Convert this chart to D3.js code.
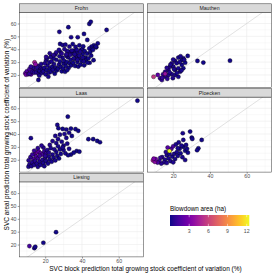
<!DOCTYPE html>
<html>
<head>
<meta charset="utf-8">
<script src="https://cdn.jsdelivr.net/npm/d3@7"></script>
<style>
    body { margin: 0; background: #fff; }
    text { font-family: "Liberation Sans", Arial, sans-serif; }
</style>
</head>
<body>
<div id="chart"></div>
<script>

// facet order as in the figure
const sites = ["Frohn", "Mauthen", "Laas", "Ploecken", "Liesing"];

// rows: [block CV (%), areal CV (%), blowdown area (ha)]
const frohn = [
    [44.0, 59.7, 0.1], [44.8, 61.3, 0.1], [53.4, 55.0, 0.1], [27.7, 53.5, 0.2], [32.6, 57.1, 0.1],
    [34.1, 49.3, 0.2], [41.1, 51.9, 0.1], [37.7, 49.3, 0.2], [42.9, 47.2, 0.1], [46.5, 43.1, 0.1],
    [45.2, 42.0, 0.1], [47.8, 41.5, 0.1], [44.0, 40.6, 0.2], [16.3, 16.1, 0.2], [48.6, 44.5, 0.1],
    [9.2, 21.3, 2.2], [10.0, 22.8, 1.6], [9.6, 20.2, 2.6], [10.8, 20.6, 1.2], [12.3, 20.4, 1.8],
    [13.6, 23.9, 1.0], [11.5, 21.0, 0.8], [12.8, 22.5, 0.6], [13.5, 25.8, 0.5], [11.4, 24.5, 1.3],
    [14.0, 21.8, 0.5], [12.2, 26.5, 0.7],
    [15.2, 22.0, 0.4], [15.8, 24.3, 0.3], [16.5, 20.8, 0.4], [17.0, 23.0, 0.2], [17.5, 25.8, 0.4],
    [16.2, 27.0, 0.6], [18.2, 21.5, 0.2], [18.5, 24.2, 0.3], [15.5, 26.0, 0.5], [17.8, 28.5, 0.3],
    [16.8, 19.5, 0.3], [19.0, 22.8, 0.2], [19.5, 25.5, 0.2], [20.2, 20.5, 0.2], [20.8, 23.8, 0.1],
    [21.3, 27.2, 0.3], [19.8, 29.0, 0.4], [22.0, 21.8, 0.2], [21.7, 18.6, 0.2], [22.5, 25.0, 0.1],
    [20.5, 31.5, 0.4], [22.3, 29.8, 0.2], [21.0, 33.0, 0.3], [23.2, 22.5, 0.2], [23.8, 26.5, 0.1],
    [24.3, 24.0, 0.2], [24.8, 28.5, 0.2], [25.2, 21.0, 0.1], [25.8, 25.8, 0.1], [23.5, 30.5, 0.3],
    [26.0, 31.8, 0.2], [24.5, 33.0, 0.2], [26.3, 23.5, 0.1], [25.5, 35.8, 0.3], [23.0, 34.0, 0.3],
    [27.0, 24.8, 0.1], [27.5, 28.0, 0.2], [28.0, 30.5, 0.1], [28.5, 26.2, 0.1], [29.0, 22.8, 0.1],
    [29.5, 33.2, 0.2], [30.0, 28.8, 0.1], [27.8, 34.5, 0.2], [29.8, 25.0, 0.1], [28.3, 37.8, 0.3],
    [30.3, 31.0, 0.2], [30.8, 22.5, 0.1], [31.2, 27.0, 0.1], [31.8, 30.0, 0.1], [32.3, 33.8, 0.2],
    [32.8, 25.5, 0.1], [33.3, 29.0, 0.1], [33.8, 31.8, 0.1], [31.5, 35.0, 0.2], [34.2, 27.5, 0.1],
    [34.5, 36.5, 0.2], [32.0, 23.8, 0.1], [33.0, 38.0, 0.3], [35.2, 29.5, 0.1], [35.8, 32.5, 0.1],
    [36.3, 27.0, 0.1], [36.8, 34.8, 0.2], [37.5, 30.0, 0.1], [38.0, 26.5, 0.1], [35.5, 38.8, 0.2],
    [37.2, 37.5, 0.2], [38.3, 33.0, 0.1], [39.2, 28.0, 0.1], [39.8, 31.0, 0.1], [40.5, 36.2, 0.1],
    [41.2, 27.5, 0.1], [41.8, 33.5, 0.1], [39.5, 39.5, 0.2], [42.2, 31.5, 0.1], [43.5, 33.0, 0.1],
    [44.2, 29.5, 0.1], [45.0, 35.0, 0.1], [46.3, 31.5, 0.1], [47.5, 42.0, 0.1], [45.5, 40.2, 0.1],
    [28.1, 44.1, 0.1], [29.5, 43.2, 0.2], [31.0, 43.5, 0.2], [33.2, 42.0, 0.3], [35.0, 44.0, 0.1],
    [36.5, 41.8, 0.2], [38.6, 43.0, 0.1], [40.2, 40.0, 0.2], [41.5, 38.5, 0.1], [39.0, 38.0, 0.3],
    [37.2, 39.5, 0.2], [34.5, 39.0, 0.3], [32.0, 38.5, 0.3], [30.5, 40.0, 0.4], [27.5, 39.5, 0.3],
    [26.0, 37.5, 0.4], [42.8, 36.5, 0.1], [44.5, 37.8, 0.1], [46.0, 39.5, 0.1], [36.0, 36.0, 0.3],
    [38.5, 35.0, 0.2], [40.5, 33.5, 0.2], [40.7, 42.2, 0.1], [41.0, 30.5, 0.2], [43.0, 29.5, 0.1],
    [37.5, 31.8, 0.3], [35.5, 33.0, 0.2], [33.5, 35.5, 0.4], [31.5, 36.0, 0.4], [29.0, 36.5, 0.5],
    [24.5, 35.5, 0.5], [22.5, 36.8, 0.4], [20.5, 34.0, 0.6], [14.2, 29.8, 4.6], [14.7, 28.3, 3.6]
];

const mauthen = [
    [27.9, 34.8, 0.1], [25.5, 33.0, 0.2], [24.7, 31.6, 0.1], [22.8, 33.5, 0.2], [21.0, 30.9, 0.3],
    [21.9, 29.1, 0.2], [19.2, 29.1, 0.4], [18.3, 26.4, 0.4], [20.1, 26.4, 0.3], [17.4, 23.9, 0.5],
    [15.6, 22.5, 0.6], [21.0, 23.9, 0.2], [22.8, 25.2, 0.2], [24.7, 27.8, 0.1], [26.5, 29.5, 0.1],
    [23.7, 22.5, 0.2], [19.2, 20.7, 0.3], [17.4, 19.9, 0.5], [15.6, 18.6, 0.7], [12.9, 17.4, 1.0],
    [13.8, 16.1, 0.8], [22.8, 18.6, 0.2], [21.0, 19.9, 0.3], [25.5, 25.2, 0.1], [26.0, 31.8, 0.2],
    [23.5, 30.0, 0.2], [20.0, 32.0, 0.3], [24.0, 34.5, 0.2], [18.5, 28.0, 0.3], [16.5, 25.5, 0.5],
    [20.5, 24.5, 0.3], [14.5, 20.5, 0.9], [18.0, 22.0, 0.4], [22.0, 21.5, 0.2], [24.5, 23.5, 0.2],
    [19.8, 17.5, 0.4], [16.8, 17.0, 0.6], [14.0, 17.8, 0.9], [33.2, 30.9, 0.1], [36.4, 29.6, 0.1],
    [50.9, 31.1, 0.1], [11.6, 20.0, 2.0], [9.3, 18.6, 5.6], [15.6, 20.9, 4.0]
];

const laas = [
    [70.2, 65.9, 0.1], [32.3, 53.5, 0.1], [26.6, 47.1, 0.2], [27.2, 44.5, 0.1], [12.2, 36.8, 0.2],
    [29.5, 44.0, 0.1], [31.5, 43.5, 0.2], [34.0, 44.2, 0.1], [36.5, 43.8, 0.1], [38.0, 42.5, 0.1],
    [33.0, 41.0, 0.2], [30.5, 40.0, 0.3], [28.0, 39.5, 0.2], [25.5, 38.5, 0.3], [31.5, 37.0, 0.2],
    [34.5, 38.5, 0.1], [27.0, 36.0, 0.3], [24.0, 34.5, 0.4], [26.0, 33.0, 0.3], [29.0, 34.0, 0.2],
    [32.0, 32.5, 0.2], [30.0, 31.0, 0.2], [22.5, 31.5, 0.5], [43.5, 36.0, 0.1], [46.1, 36.0, 0.1],
    [48.3, 34.6, 0.1], [49.8, 33.6, 0.1], [37.1, 26.8, 0.1], [38.6, 26.3, 0.1], [34.0, 24.0, 0.1],
    [35.5, 25.5, 0.1], [31.0, 25.0, 0.2], [32.5, 23.5, 0.1], [30.0, 27.5, 0.2], [33.0, 28.5, 0.2],
    [14.5, 24.5, 2.2], [15.5, 25.8, 2.6], [16.5, 26.3, 2.0], [17.5, 25.0, 1.8], [18.5, 24.0, 1.4],
    [15.0, 22.5, 1.6], [16.0, 21.0, 1.2], [13.5, 20.5, 1.5], [17.0, 23.0, 1.1], [19.5, 26.5, 0.9],
    [20.5, 25.0, 0.9],
    [10.9, 14.6, 0.3], [11.5, 16.5, 0.4], [12.5, 15.0, 0.3], [13.0, 18.0, 0.5], [14.0, 16.0, 0.4],
    [14.5, 19.0, 0.6], [15.5, 17.0, 0.4], [16.0, 14.5, 0.3], [17.0, 18.5, 0.4], [17.5, 16.0, 0.3],
    [18.5, 20.0, 0.4], [19.0, 17.5, 0.3], [19.5, 15.0, 0.2], [20.0, 21.5, 0.4], [20.5, 19.0, 0.3],
    [21.5, 17.0, 0.2], [22.0, 22.5, 0.3], [22.5, 20.0, 0.2], [23.5, 18.5, 0.2], [24.0, 24.0, 0.3],
    [24.5, 21.5, 0.2], [25.5, 19.5, 0.2], [26.0, 26.0, 0.2], [26.5, 23.0, 0.2], [27.5, 21.0, 0.1],
    [28.0, 28.0, 0.2], [28.5, 24.5, 0.1], [21.0, 27.5, 0.4], [23.0, 29.0, 0.3], [25.0, 28.0, 0.3],
    [19.0, 29.5, 0.5], [12.0, 22.0, 0.8], [11.0, 19.5, 0.6], [13.0, 24.0, 1.0], [16.0, 29.0, 0.7],
    [18.0, 31.0, 0.5], [14.0, 27.0, 1.0], [20.0, 23.0, 0.6], [22.0, 25.5, 0.4], [27.0, 30.5, 0.2],
    [29.5, 29.5, 0.2]
];

const ploecken = [
    [29.2, 41.9, 0.1], [25.2, 40.6, 0.2], [30.1, 37.2, 0.1], [30.4, 36.2, 0.1], [35.5, 35.4, 0.1],
    [25.5, 35.4, 0.2], [33.7, 28.9, 0.1], [33.0, 27.4, 0.1], [26.5, 19.8, 0.2],
    [14.0, 22.0, 0.5], [15.5, 20.0, 0.4], [16.5, 23.5, 0.4], [17.5, 21.0, 0.3], [18.5, 19.0, 0.3],
    [19.5, 22.5, 0.2], [20.5, 24.5, 0.3], [21.0, 20.5, 0.2], [22.0, 26.0, 0.2], [22.5, 23.0, 0.2],
    [23.5, 28.5, 0.2], [24.0, 25.0, 0.1], [25.0, 22.0, 0.2], [25.5, 30.0, 0.1], [26.5, 27.0, 0.1],
    [27.0, 31.5, 0.2], [28.0, 25.5, 0.1], [19.0, 28.5, 1.6], [17.0, 29.5, 1.8], [16.0, 26.0, 0.6],
    [20.0, 30.5, 1.4], [21.5, 32.0, 0.3], [23.0, 33.5, 0.2], [24.5, 31.0, 0.2], [18.0, 24.5, 0.3],
    [15.0, 18.0, 0.4], [13.5, 17.0, 0.5], [27.5, 28.5, 0.1], [22.5, 29.0, 0.2], [20.0, 18.0, 0.3],
    [16.5, 17.5, 0.4], [13.0, 21.5, 0.8], [12.5, 19.0, 0.9], [11.5, 17.8, 1.5],
    [9.0, 19.5, 4.5], [10.0, 18.4, 3.5], [10.5, 20.5, 2.5], [9.4, 20.8, 3.0], [18.0, 26.8, 12.4]
];

const liesing = [
    [11.4, 18.8, 1.4], [14.1, 17.2, 0.2], [14.6, 18.3, 0.1], [19.0, 21.4, 0.1], [25.9, 29.6, 0.1]
];

const xTicks = [20, 40, 60];
const xMinor = [10, 30, 50, 70];
const yTicks = [20, 30, 40, 50, 60];
const yMinor = [15, 25, 35, 45, 55, 65];
const legendTicks = [3, 6, 9, 12];


class FacetScatter {

    constructor(_parentElement, _data) {
        this.parentElement = _parentElement;
        this.data = _data;

        this.initVis();
    }

    initVis() {
        let vis = this;

        vis.plotLeft = 19.3;
        vis.plotTop = 3.8;
        vis.panelWidth = 124.4;
        vis.panelHeight = 75;
        vis.stripHeight = 8.5;
        vis.colGap = 3.6;
        vis.rowGap = 1.3;

        vis.svg = d3.select("#" + vis.parentElement).append("svg")
            .attr("width", 275)
            .attr("height", 275);

        vis.x = d3.scaleLinear()
            .domain([5.9, 73.6])
            .range([0, vis.panelWidth]);

        vis.y = d3.scaleLinear()
            .domain([10.4, 68.7])
            .range([vis.panelHeight, 0]);

        vis.colour = d3.scaleSequential(d3.interpolatePlasma)
            .domain([0, 12.4]);

        vis.svg.append("defs").append("clipPath")
            .attr("id", "panel-clip")
            .append("rect")
            .attr("width", vis.panelWidth)
            .attr("height", vis.panelHeight);

        // axis titles
        vis.svg.append("text")
            .attr("x", vis.plotLeft + (2 * vis.panelWidth + vis.colGap) / 2)
            .attr("y", 270.6)
            .attr("text-anchor", "middle")
            .attr("font-size", 6.5)
            .text("SVC block prediction total growing stock coefficient of variation (%)");

        let midY = vis.plotTop + (3 * (vis.stripHeight + vis.panelHeight) + 2 * vis.rowGap) / 2 + vis.stripHeight / 2;
        vis.svg.append("text")
            .attr("transform", "translate(9.3," + midY + ") rotate(-90)")
            .attr("text-anchor", "middle")
            .attr("font-size", 6.5)
            .text("SVC areal prediction total growing stock coefficient of variation (%)");

        vis.wrangleData();
    }

    wrangleData() {
        let vis = this;

        vis.displayData = sites.map(function(site, i) {
            return {
                site: site,
                col: i % 2,
                row: Math.floor(i / 2),
                points: vis.data[i].map(function(d) {
                    return { block: d[0], areal: d[1], area: d[2] };
                })
            };
        });

        vis.updateVis();
    }

    updateVis() {
        let vis = this;

        vis.displayData.forEach(function(panel, i) {
            let left = vis.plotLeft + panel.col * (vis.panelWidth + vis.colGap);
            let top = vis.plotTop + panel.row * (vis.stripHeight + vis.panelHeight + vis.rowGap) + vis.stripHeight;

            let g = vis.svg.append("g")
                .attr("transform", "translate(" + left + "," + top + ")");

            // grid
            g.selectAll(".x-minor").data(xMinor).enter().append("line")
                .attr("x1", d => vis.x(d)).attr("x2", d => vis.x(d))
                .attr("y1", 0).attr("y2", vis.panelHeight)
                .attr("stroke", "#ebebeb").attr("stroke-width", 0.3);
            g.selectAll(".y-minor").data(yMinor).enter().append("line")
                .attr("y1", d => vis.y(d)).attr("y2", d => vis.y(d))
                .attr("x1", 0).attr("x2", vis.panelWidth)
                .attr("stroke", "#ebebeb").attr("stroke-width", 0.3);
            g.selectAll(".x-major").data(xTicks).enter().append("line")
                .attr("x1", d => vis.x(d)).attr("x2", d => vis.x(d))
                .attr("y1", 0).attr("y2", vis.panelHeight)
                .attr("stroke", "#ebebeb").attr("stroke-width", 0.6);
            g.selectAll(".y-major").data(yTicks).enter().append("line")
                .attr("y1", d => vis.y(d)).attr("y2", d => vis.y(d))
                .attr("x1", 0).attr("x2", vis.panelWidth)
                .attr("stroke", "#ebebeb").attr("stroke-width", 0.6);

            let inner = g.append("g").attr("clip-path", "url(#panel-clip)");

            // 1:1 line
            inner.append("line")
                .attr("x1", vis.x(0)).attr("y1", vis.y(0))
                .attr("x2", vis.x(80)).attr("y2", vis.y(80))
                .attr("stroke", "#c4c4c4")
                .attr("stroke-width", 0.5);

            inner.selectAll(".dot")
                .data(panel.points)
                .enter().append("circle")
                .attr("class", "dot")
                .attr("cx", d => vis.x(d.block))
                .attr("cy", d => vis.y(d.areal))
                .attr("r", 2.1)
                .attr("fill", d => vis.colour(d.area))
                .attr("stroke", "#000")
                .attr("stroke-width", 0.35);

            g.append("rect")
                .attr("width", vis.panelWidth)
                .attr("height", vis.panelHeight)
                .attr("fill", "none")
                .attr("stroke", "#333")
                .attr("stroke-width", 0.5);

            // strip
            g.append("rect")
                .attr("y", -vis.stripHeight)
                .attr("width", vis.panelWidth)
                .attr("height", vis.stripHeight)
                .attr("fill", "#d9d9d9")
                .attr("stroke", "#333")
                .attr("stroke-width", 0.5);
            g.append("text")
                .attr("x", vis.panelWidth / 2)
                .attr("y", -vis.stripHeight / 2)
                .attr("dy", "0.35em")
                .attr("text-anchor", "middle")
                .attr("font-size", 5.2)
                .attr("fill", "#1a1a1a")
                .text(panel.site);

            // axes: y on the left column, x under the last panel of each column
            if (panel.col === 0) {
                let yAxis = g.append("g")
                    .call(d3.axisLeft(vis.y).tickValues(yTicks).tickSize(1.6).tickPadding(1.2));
                vis.styleAxis(yAxis);
            }
            if (i === 3 || i === 4) {
                let xAxis = g.append("g")
                    .attr("transform", "translate(0," + vis.panelHeight + ")")
                    .call(d3.axisBottom(vis.x).tickValues(xTicks).tickSize(1.6).tickPadding(1.0));
                vis.styleAxis(xAxis);
            }
        });

        vis.drawLegend();
    }

    styleAxis(axis) {
        axis.select(".domain").remove();
        axis.attr("font-family", null).attr("font-size", null);
        axis.selectAll(".tick line").attr("stroke", "#333").attr("stroke-width", 0.5);
        axis.selectAll(".tick text").attr("fill", "#4d4d4d").attr("font-size", 5.2);
    }

    drawLegend() {
        let vis = this;

        let bar = { x: 170, y: 215, w: 79.3, h: 11 };

        let lx = d3.scaleLinear()
            .domain(vis.colour.domain())
            .range([bar.x, bar.x + bar.w]);

        let grad = vis.svg.select("defs").append("linearGradient")
            .attr("id", "plasma-grad");
        grad.selectAll("stop")
            .data(d3.range(0, 1.0001, 0.05))
            .enter().append("stop")
            .attr("offset", d => d * 100 + "%")
            .attr("stop-color", d => d3.interpolatePlasma(d));

        vis.svg.append("text")
            .attr("x", bar.x)
            .attr("y", 211.2)
            .attr("font-size", 6.3)
            .attr("fill", "#000")
            .text("Blowdown area (ha)");

        vis.svg.append("rect")
            .attr("x", bar.x).attr("y", bar.y)
            .attr("width", bar.w).attr("height", bar.h)
            .attr("fill", "url(#plasma-grad)");

        let ticks = vis.svg.selectAll(".legend-tick")
            .data(legendTicks)
            .enter().append("g")
            .attr("class", "legend-tick");
        ticks.append("line")
            .attr("x1", d => lx(d)).attr("x2", d => lx(d))
            .attr("y1", bar.y).attr("y2", bar.y + 2.2)
            .attr("stroke", "#fff").attr("stroke-width", 0.5);
        ticks.append("line")
            .attr("x1", d => lx(d)).attr("x2", d => lx(d))
            .attr("y1", bar.y + bar.h - 2.2).attr("y2", bar.y + bar.h)
            .attr("stroke", "#fff").attr("stroke-width", 0.5);
        ticks.append("text")
            .attr("x", d => lx(d))
            .attr("y", 232.8)
            .attr("text-anchor", "middle")
            .attr("font-size", 5.2)
            .attr("fill", "#4d4d4d")
            .text(d => d);
    }
}

new FacetScatter("chart", [frohn, mauthen, laas, ploecken, liesing]);

</script>
</body>
</html>
